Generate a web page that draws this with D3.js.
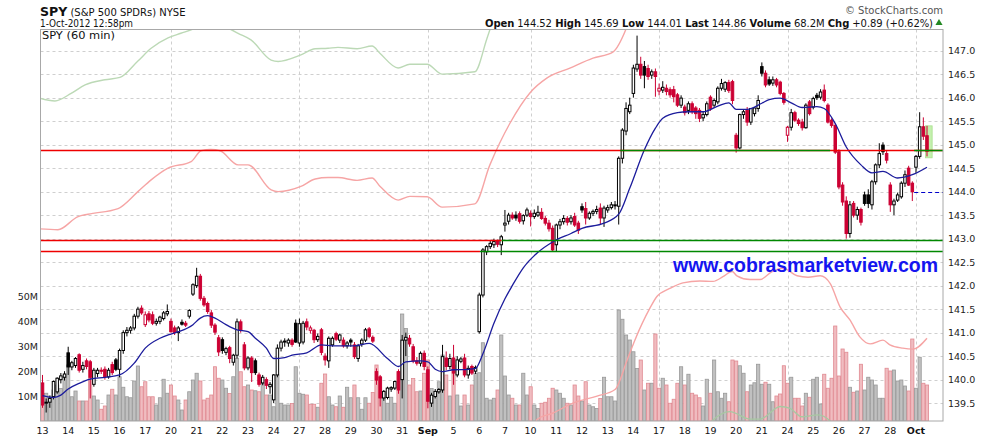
<!DOCTYPE html>
<html lang="en">
<head>
<meta charset="UTF-8">
<title>SPY (60 min)</title>
<style>
  body { margin: 0; background: #fff; }
  svg { display: block; }
  text { font-family: "DejaVu Sans", Verdana, sans-serif; fill: #111; }
</style>
</head>
<body>
<script src="https://d3js.org/d3.v7.min.js"></script>
<script>
// 60 minute bars, 7 per session, 13 Aug 2012 - 1 Oct 2012 (last session partial)
const dayLabels = ["13","14","15","16","17","20","21","22","23","24","27","28","29","30","31",
  "Sep","5","6","7","10","11","12","13","14","17","18","19","20","21","24","25","26","27","28","Oct"];
const monthLabels = ["Sep", "Oct"];
const gridBars = [35, 70, 105, 133, 168, 203, 238];   // first bar of each week

// [open, high, low, close]
const bars = [
  // Aug 13
  [139.93,140.10,139.40,139.46],[139.50,139.60,139.30,139.52],[139.52,139.66,139.40,139.60],[139.64,139.98,139.58,139.96],
  [139.74,140.05,139.70,140.03],[140.00,140.14,139.92,140.08],[140.05,140.18,139.98,140.12],
  // Aug 14
  [140.57,140.70,140.10,140.27],[140.27,140.40,140.20,140.36],[140.30,140.48,140.25,140.45],[140.53,140.56,140.15,140.20],
  [140.22,140.38,140.15,140.30],[140.40,140.45,140.22,140.28],[140.38,140.42,139.60,140.05],
  // Aug 15
  [139.90,140.25,139.85,140.20],[140.13,140.25,140.05,140.20],[140.20,140.26,140.12,140.18],[140.22,140.28,140.00,140.06],
  [140.06,140.25,140.02,140.20],[140.32,140.38,140.10,140.15],[140.42,140.46,140.18,140.22],
  // Aug 16
  [140.22,140.66,140.05,140.62],[140.62,141.05,140.55,141.00],[141.00,141.12,140.92,141.05],[141.05,141.14,140.98,141.10],
  [141.10,141.40,141.05,141.35],[141.35,141.55,141.30,141.50],[141.52,141.58,141.38,141.42],
  // Aug 17
  [141.17,141.45,141.12,141.38],[141.40,141.46,141.22,141.27],[141.38,141.45,141.16,141.20],[141.20,141.30,141.15,141.24],
  [141.24,141.36,141.18,141.33],[141.30,141.46,141.26,141.42],[141.40,141.60,141.35,141.45],
  // Aug 20
  [141.24,141.30,141.00,141.02],[141.10,141.15,140.95,141.00],[141.00,141.14,140.82,141.10],[141.22,141.28,141.15,141.18],
  [141.20,141.25,141.12,141.16],[141.35,141.50,141.30,141.47],[141.82,142.05,141.78,142.02],
  // Aug 21
  [142.00,142.38,141.95,142.20],[142.20,142.25,141.68,141.73],[141.73,141.78,141.55,141.59],[141.62,141.66,141.40,141.45],
  [141.42,141.48,141.10,141.16],[141.16,141.20,140.95,141.01],[140.89,140.95,140.50,140.59],
  // Aug 22
  [140.85,140.90,140.55,140.62],[140.58,140.70,140.52,140.66],[140.68,140.72,140.35,140.45],[140.37,140.55,140.30,140.52],
  [140.52,141.30,140.45,141.23],[141.23,141.28,141.00,141.06],[140.74,140.80,140.20,140.25],
  // Aug 23
  [140.25,140.50,140.20,140.46],[140.46,140.50,139.95,140.15],[140.40,140.45,140.10,140.15],[140.10,140.15,139.85,139.90],
  [139.93,140.10,139.88,140.05],[140.00,140.05,139.80,139.88],[139.85,139.95,139.70,139.90],
  // Aug 24
  [139.57,140.12,139.50,140.10],[140.10,140.75,140.05,140.67],[140.67,140.85,140.60,140.80],[140.80,140.88,140.70,140.82],
  [140.78,140.88,140.70,140.84],[140.84,140.88,140.70,140.75],[141.20,141.28,140.78,140.80],
  // Aug 27
  [140.78,141.30,140.70,141.19],[140.80,141.25,140.75,141.20],[141.23,141.30,141.05,141.12],[141.05,141.15,140.98,141.10],
  [141.05,141.08,140.78,140.85],[140.85,140.98,140.80,140.92],[141.06,141.10,140.52,140.58],
  // Aug 28
  [140.50,140.56,140.30,140.42],[140.40,140.92,140.25,140.88],[140.74,140.92,140.70,140.88],[140.98,141.02,140.82,140.86],
  [140.84,140.98,140.78,140.95],[140.84,140.90,140.68,140.72],[140.72,140.82,140.66,140.78],
  // Aug 29
  [140.84,140.88,140.70,140.80],[140.74,140.80,140.44,140.49],[140.45,140.76,140.38,140.72],[140.76,140.88,140.70,140.84],
  [140.84,141.10,140.80,141.06],[141.08,141.12,140.88,140.92],[140.90,140.94,140.78,140.82],
  // Aug 30
  [140.17,140.24,139.89,139.99],[140.06,140.10,139.43,139.61],[139.61,139.78,139.55,139.75],[139.62,139.85,139.58,139.82],
  [139.80,139.86,139.74,139.83],[139.82,139.98,139.78,139.96],[140.17,140.22,139.70,139.78],
  // Aug 31
  [140.00,140.95,139.60,140.84],[140.84,141.00,140.50,140.90],[140.88,140.95,140.70,140.76],[140.70,140.76,140.35,140.40],
  [140.40,140.48,140.30,140.35],[140.35,140.60,140.28,140.56],[140.56,140.62,140.20,140.28],
  // Sep 4
  [140.21,140.28,139.39,139.54],[139.50,139.72,139.42,139.67],[139.64,139.80,139.60,139.75],[139.74,139.82,139.70,139.79],
  [139.78,140.74,139.72,140.49],[140.46,140.60,140.20,140.28],[140.28,140.55,140.22,140.45],
  // Sep 5
  [140.46,140.74,139.89,140.14],[140.10,140.50,140.05,140.42],[140.39,140.48,140.35,140.44],[140.46,140.55,140.05,140.10],
  [140.10,140.30,140.02,140.24],[140.28,140.32,140.10,140.14],[140.18,140.30,140.12,140.26],
  // Sep 6
  [141.02,141.85,140.98,141.80],[141.80,142.80,141.75,142.76],[142.72,142.86,142.65,142.83],[142.83,142.95,142.78,142.90],
  [142.87,143.00,142.80,142.94],[142.94,142.98,142.82,142.88],[142.87,143.08,142.65,143.04],
  // Sep 7
  [143.29,143.61,143.15,143.33],[143.37,143.55,143.30,143.50],[143.50,143.56,143.40,143.44],[143.50,143.58,143.38,143.44],
  [143.53,143.58,143.32,143.37],[143.38,143.52,143.30,143.49],[143.50,143.66,143.46,143.61],
  // Sep 10
  [143.54,143.60,143.26,143.47],[143.47,143.62,143.42,143.54],[143.50,143.70,143.46,143.56],[143.56,143.65,143.40,143.43],
  [143.43,143.48,143.28,143.33],[143.33,143.40,143.15,143.21],[143.22,143.28,142.72,142.76],
  // Sep 11
  [142.87,143.32,142.72,143.29],[143.29,143.42,143.20,143.36],[143.36,143.50,143.30,143.43],[143.43,143.48,143.28,143.35],
  [143.36,143.50,143.30,143.44],[143.47,143.55,143.25,143.29],[143.33,143.38,143.10,143.18],
  // Sep 12
  [143.68,143.75,143.55,143.61],[143.64,143.78,143.30,143.44],[143.44,143.58,143.40,143.54],[143.54,143.62,143.48,143.58],
  [143.58,143.70,143.52,143.62],[143.65,143.75,143.30,143.44],[143.44,143.70,143.25,143.65],
  // Sep 13
  [143.61,143.72,143.55,143.66],[143.66,143.78,143.62,143.72],[143.70,143.80,143.62,143.72],[143.69,144.75,143.30,144.71],
  [144.71,145.35,144.60,145.31],[145.29,145.90,145.20,145.77],[145.70,146.00,145.65,145.84],
  // Sep 14
  [146.09,146.70,146.00,146.63],[146.61,147.32,146.55,146.71],[146.71,146.87,146.40,146.48],[146.66,146.78,146.20,146.48],
  [146.62,146.70,146.38,146.45],[146.48,146.60,146.40,146.55],[146.55,146.62,146.02,146.45],
  // Sep 17
  [146.14,146.30,146.05,146.20],[146.16,146.35,146.10,146.22],[146.20,146.28,146.05,146.13],[146.17,146.22,146.00,146.06],
  [146.17,146.25,145.90,146.02],[146.06,146.10,145.80,145.84],[145.84,146.05,145.78,145.99],
  // Sep 18
  [145.80,145.85,145.62,145.68],[145.73,145.92,145.65,145.87],[145.87,145.92,145.65,145.70],[145.78,145.82,145.55,145.66],
  [145.73,145.78,145.48,145.56],[145.57,145.70,145.50,145.64],[145.64,145.92,145.60,145.87],
  // Sep 19
  [146.01,146.05,145.72,145.77],[145.84,145.98,145.78,145.94],[145.91,146.24,145.86,146.20],[146.20,146.40,146.15,146.30],
  [146.18,146.35,146.12,146.32],[146.32,146.38,146.10,146.15],[146.34,146.38,145.86,145.94],
  // Sep 20
  [145.20,145.25,144.83,144.93],[144.93,145.66,144.90,145.64],[145.64,145.75,145.55,145.70],[145.73,145.80,145.40,145.48],
  [145.48,145.78,145.42,145.77],[145.66,145.80,145.60,145.78],[145.77,146.05,145.70,145.94],
  // Sep 21
  [146.66,146.75,146.45,146.52],[146.52,146.58,146.22,146.27],[146.38,146.45,146.25,146.29],[146.31,146.45,146.25,146.38],
  [146.38,146.42,146.22,146.27],[146.33,146.36,146.05,146.09],[146.09,146.12,145.85,145.90],
  // Sep 24
  [145.20,145.40,145.06,145.37],[145.37,145.76,145.30,145.68],[145.68,145.72,145.48,145.52],[145.52,145.56,145.40,145.45],
  [145.48,145.55,145.30,145.36],[145.36,145.88,145.34,145.84],[145.91,145.95,145.62,145.66],
  // Sep 25
  [145.80,146.02,145.75,145.98],[146.05,146.10,145.95,146.00],[146.01,146.18,145.96,146.12],[146.16,146.28,145.90,145.94],
  [145.84,145.88,145.45,145.48],[145.52,145.56,145.36,145.41],[145.41,145.45,144.80,144.84],
  // Sep 26
  [144.85,144.90,144.05,144.10],[144.14,144.20,143.70,143.78],[143.80,143.90,143.00,143.11],[143.11,143.80,143.02,143.72],
  [143.75,143.80,143.45,143.50],[143.50,143.68,143.40,143.62],[143.62,143.66,143.28,143.35],
  // Sep 27
  [143.93,144.00,143.70,143.75],[143.93,144.05,143.65,143.75],[143.72,144.25,143.62,144.21],[144.21,144.60,144.15,144.57],
  [144.57,145.03,144.50,144.81],[144.99,145.05,144.78,144.85],[144.81,144.88,144.60,144.67],
  // Sep 28
  [144.14,144.20,143.57,143.72],[143.72,143.85,143.50,143.80],[143.82,143.98,143.78,143.93],[143.89,144.22,143.85,144.18],
  [144.18,144.45,144.10,144.36],[144.50,144.55,144.12,144.14],[144.18,144.22,143.80,144.00],
  // Oct 1
  [144.52,144.78,144.40,144.75],[144.75,145.69,144.70,145.38],[145.38,145.58,145.10,145.18],[145.19,145.40,144.75,144.86]
];

// volume per bar, millions
const volumes = [
  9.7,11.1,10.0,12.4,14.4,13.0,17.7,  22.4,9.7,12.0,8.0,8.0,8.0,20.4,  10.0,8.4,4.7,6.0,10.4,12.7,10.4,
  17.7,13.5,9.7,9.3,16.0,22.0,13.7,  15.7,9.7,9.7,6.4,9.3,16.7,11.1,  14.4,10.0,8.4,4.4,8.4,11.7,16.4,
  19.1,16.0,8.4,9.1,10.4,21.7,17.1,  16.4,13.1,11.0,17.7,25.1,19.7,13.7,  14.4,12.4,12.1,11.7,15.1,10.4,10.4,
  5.7,18.4,7.1,6.4,6.4,7.0,21.7,  11.1,10.7,10.4,6.7,6.7,5.5,15.1,  18.8,9.7,6.4,5.7,10.0,5.5,13.5,
  9.3,14.4,9.3,4.7,9.3,7.1,11.4,  22.4,17.5,9.3,7.1,9.5,7.1,19.7,  42.8,37.0,14.4,17.0,11.7,12.0,19.1,
  24.4,13.0,10.4,15.7,26.4,18.4,10.0,  22.4,10.4,6.0,10.4,6.4,14.4,19.1,  19.3,31.3,9.1,8.4,9.1,12.4,34.4,
  18.0,10.4,9.1,6.4,6.4,19.1,10.4,  13.7,6.4,5.0,7.1,7.5,9.1,13.1,  12.4,11.1,9.1,7.1,6.4,14.4,10.0,
  8.0,15.7,6.4,5.7,5.0,9.0,17.5,  9.7,9.7,8.0,44.4,40.7,34.4,32.4,  27.7,21.0,24.4,12.4,15.1,15.1,34.8,
  13.1,17.1,14.4,7.1,8.7,15.1,21.7,  14.4,18.7,11.1,10.4,9.3,6.0,16.7,  11.1,24.4,11.7,9.1,11.1,7.7,24.4,
  24.0,22.1,19.1,11.7,14.4,15.3,22.7,  14.7,15.5,14.7,7.7,10.0,10.8,22.1,  15.1,17.5,9.1,9.1,6.0,11.1,9.5,
  16.7,17.5,6.8,18.7,13.1,17.1,38.0,  18.0,28.8,27.5,13.5,11.5,12.0,22.7,  12.4,17.5,16.4,14.4,9.1,9.1,21.1,
  20.0,20.4,16.0,16.4,14.0,12.0,32.8,  13.1,25.5,15.1,14.4
];

// moving average: [bar, value]
const maPoints = [[0,139.66],[3,139.62],[5,139.67],[7,139.80],[10,139.92],[13,140.01],[17,140.05],[21,140.10],
  [25,140.35],[28,140.67],[32,140.88],[35,140.97],[37,141.02],[41,141.17],[43,141.31],[45,141.36],[47,141.31],
  [50,141.17],[53,141.06],[56,141.02],[58,140.88],[61,140.67],[63,140.45],[66,140.47],[68,140.52],[72,140.57],
  [76,140.74],[79,140.72],[85,140.72],[89,140.77],[94,140.45],[97,140.28],[99,140.38],[103,140.40],[105,140.38],
  [107,140.22],[109,140.17],[112,140.21],[116,140.22],[118,140.24],[120,140.55],[123,141.20],[126,141.72],
  [128,142.00],[131,142.38],[135,142.71],[139,142.93],[144,143.11],[147,143.22],[153,143.33],[157,143.52],
  [160,144.07],[164,144.89],[167,145.35],[169,145.56],[173,145.68],[176,145.70],[180,145.70],[184,145.82],
  [187,145.89],[189,145.75],[192,145.75],[196,145.88],[198,145.96],[201,145.99],[204,145.89],[207,145.79],
  [211,145.81],[213,145.77],[216,145.45],[219,144.95],[223,144.57],[226,144.40],[229,144.43],[233,144.29],
  [237,144.36],[241,144.52]];

// light overlay lines, in price units
const pinkUpper = [[-1.2,143.21],[4.2,143.19],[9.7,143.47],[12.4,143.52],[20.6,143.64],[26,144.00],[29.6,144.25],
  [34.2,144.50],[40.5,144.64],[43.2,144.87],[45.9,144.90],[48.4,144.87],[53.3,144.57],[56,144.57],[62.3,144.04],
  [64.2,144.00],[70.4,144.11],[74.3,144.27],[77.8,144.30],[80.5,144.30],[85.7,144.24],[89.8,144.29],[92,144.11],
  [96.9,143.82],[100.1,143.90],[104.8,143.89],[108.9,143.67],[117.8,143.74],[121.9,144.57],[127.4,145.46],
  [132.8,146.10],[137.5,146.42],[143.7,146.63],[150,146.84],[155.4,146.97],[159.3,147.52],[161,147.90]];
const greenUpper = [[-1.2,146.00],[3.4,145.93],[7.8,146.09],[11.6,146.27],[17,146.38],[21.1,146.43],[26,146.78],
  [29.6,147.05],[34.2,147.27],[37.7,147.37],[41,147.46],[46.2,147.72],[51.1,147.46],[53.3,147.37],[56.8,147.23],
  [62.3,146.80],[64.2,146.77],[70.4,146.91],[74.3,147.04],[77.8,147.05],[80.5,147.07],[85.7,147.04],[89.8,147.10],
  [92,146.94],[96.9,146.63],[100.1,146.71],[104.8,146.71],[108.9,146.50],[117.8,146.55],[121.1,147.26],[123,147.70]];
const pinkLower = [[134.2,139.00],[134.7,139.15],[139.1,139.29],[144.5,139.50],[151.1,139.65],[156,139.79],
  [159.3,140.42],[161.4,140.84],[165.5,141.52],[167.4,141.77],[170.9,141.94],[174.5,142.06],[179.1,142.10],
  [182.7,142.09],[185.4,142.19],[187.9,142.30],[189.2,142.21],[192.8,142.13],[195.5,142.13],[198.8,142.30],
  [201.8,142.37],[205.6,142.21],[208.6,142.18],[211.9,142.21],[214.6,142.05],[217.3,141.55],[220,141.27],
  [222.7,140.91],[225.5,140.76],[229,140.84],[230.9,140.74],[234.4,140.67],[237.2,140.65],[241,140.88]];
const greenLower = [[181,139.00],[182.4,139.12],[187.3,139.32],[192.8,139.16],[195.5,139.16],[201,139.43],
  [203.7,139.39],[206.9,139.21],[211.3,139.25],[214.6,139.12],[216,139.00]];

// drawn levels: price, bar range, kind
const levels = [
  {price: 144.88, from: -2, to: 246, kind: "red"},
  {price: 144.88, from: 157.4, to: 214.6, kind: "green"},
  {price: 144.88, from: 237.5, to: 246, kind: "green"},
  {price: 142.97, from: -2, to: 125.1, kind: "red"},
  {price: 142.97, from: 125.1, to: 246, kind: "green"},
  {price: 142.74, from: -2, to: 119.2, kind: "red"},
  {price: 142.74, from: 119.2, to: 246, kind: "green"},
  {price: 144.00, from: 237.5, to: 246, kind: "dash"}
];
const highlight = {from: 240.6, to: 242.4, hi: 145.40, lo: 144.72};

const priceTicks = [139.5,140.0,140.5,141.0,141.5,142.0,142.5,143.0,143.5,144.0,144.5,145.0,145.5,146.0,146.5,147.0];
const volumeTicks = [10, 20, 30, 40, 50];
const stats = [["Open","144.52"],["High","145.69"],["Low","144.01"],["Last","144.86"],["Volume","68.2M"],["Chg","+0.89 (+0.62%)"]];

// ---------- layout ----------
const W = 990, H = 438;
const plot = {left: 40.5, right: 943, top: 29.5, bottom: 421};
const RED = "#cc0033";
const levelColor = {red: "#ee0000", green: "#008800", dash: "#0000cc"};

const x = d3.scaleLinear().domain([0, 241]).range([42.5, 927]);
const y = d3.scaleLinear().domain([139.12, 147.45]).range([plot.bottom, plot.top]);
const yv = d3.scaleLinear().domain([0, 60]).range([plot.bottom, plot.bottom - 150]);

const svg = d3.select("body").append("svg").attr("width", W).attr("height", H);

svg.append("clipPath").attr("id", "clip").append("rect")
  .attr("x", plot.left).attr("y", plot.top)
  .attr("width", plot.right - plot.left).attr("height", plot.bottom - plot.top);

const grid = svg.append("g").attr("stroke", "#cfcfcf").attr("stroke-dasharray", "3,3");
grid.selectAll(".h").data(priceTicks).enter().append("line")
  .attr("x1", plot.left).attr("x2", plot.right)
  .attr("y1", d => Math.round(y(d)) + 0.5).attr("y2", d => Math.round(y(d)) + 0.5);
grid.selectAll(".v").data(gridBars).enter().append("line")
  .attr("y1", plot.top).attr("y2", plot.bottom)
  .attr("x1", d => Math.round(x(d)) + 0.5).attr("x2", d => Math.round(x(d)) + 0.5);

const area = svg.append("g").attr("clip-path", "url(#clip)");

// volume
const isDown = (d, i) => d[3] < (i === 0 ? d[0] : bars[i - 1][3]);
area.append("g").selectAll("rect").data(volumes).enter().append("rect")
  .attr("x", (d, i) => x(i) - 1.6)
  .attr("width", 3.2)
  .attr("y", d => yv(d))
  .attr("height", d => plot.bottom - yv(d))
  .attr("fill", (d, i) => isDown(bars[i], i) ? "#f0bcc0" : "#c0c0c0")
  .attr("stroke", (d, i) => isDown(bars[i], i) ? "#e08a92" : "#999")
  .attr("stroke-width", 0.8);

// light overlays
const line = d3.line().x(d => x(d[0])).y(d => y(d[1])).curve(d3.curveMonotoneX);
[[pinkUpper, "#f6a5a5"], [pinkLower, "#f6a5a5"], [greenUpper, "#bcd9b6"], [greenLower, "#a8c8a2"]].forEach(([pts, c]) => {
  area.append("path").attr("d", line(pts)).attr("fill", "none")
    .attr("stroke", c).attr("stroke-width", 1.4);
});

// highlight box
area.append("rect")
  .attr("x", x(highlight.from)).attr("width", x(highlight.to) - x(highlight.from))
  .attr("y", y(highlight.hi)).attr("height", y(highlight.lo) - y(highlight.hi))
  .attr("fill", "#c4f0ae").attr("stroke", "#a8e08c").attr("stroke-width", 0.8);

// candles
const candle = area.append("g").selectAll("g").data(bars).enter().append("g");
const col = (d, i) => isDown(d, i) ? RED : "#000";
candle.append("line")
  .attr("x1", (d, i) => x(i)).attr("x2", (d, i) => x(i))
  .attr("y1", d => y(d[1])).attr("y2", d => y(d[2]))
  .attr("stroke", col).attr("stroke-width", 1);
candle.append("rect")
  .attr("x", (d, i) => x(i) - 1.25).attr("width", 2.5)
  .attr("y", d => y(Math.max(d[0], d[3])))
  .attr("height", d => Math.max(1, Math.abs(y(d[0]) - y(d[3]))))
  .attr("fill", (d, i) => d[3] > d[0] ? "#fff" : col(d, i))
  .attr("stroke", col).attr("stroke-width", 1);

// moving average
area.append("path").attr("d", line(maPoints)).attr("fill", "none")
  .attr("stroke", "#1c1c9c").attr("stroke-width", 1.3);

// drawn levels
area.append("g").selectAll("line").data(levels).enter().append("line")
  .attr("x1", d => x(d.from)).attr("x2", d => x(d.to))
  .attr("y1", d => Math.round(y(d.price)) + 0.5).attr("y2", d => Math.round(y(d.price)) + 0.5)
  .attr("stroke", d => levelColor[d.kind])
  .attr("stroke-width", d => d.kind === "dash" ? 1.2 : 1.3)
  .attr("stroke-dasharray", d => d.kind === "dash" ? "4,3" : null);

// watermark
svg.append("text").attr("x", 673).attr("y", 272)
  .attr("textLength", 265).attr("lengthAdjust", "spacingAndGlyphs")
  .style("font-family", "'Liberation Sans', Arial, sans-serif")
  .style("font-weight", "bold").style("font-size", "20px").style("fill", "#1414f0")
  .text("www.cobrasmarketview.com");

// frame
svg.append("rect").attr("x", plot.left).attr("y", plot.top)
  .attr("width", plot.right - plot.left).attr("height", plot.bottom - plot.top)
  .attr("fill", "none").attr("stroke", "#a8a8a8");

// right price axis labels
svg.append("g").selectAll("text").data(priceTicks).enter().append("text")
  .attr("x", plot.right + 5).attr("y", d => y(d) + 3.5)
  .style("font-size", "9.5px").style("fill", "#222")
  .text(d => d3.format(".1f")(d));

// left volume labels
svg.append("g").selectAll("text").data(volumeTicks).enter().append("text")
  .attr("x", 38).attr("y", d => yv(d) + 3.5).attr("text-anchor", "end")
  .style("font-size", "9.5px").style("fill", "#222")
  .text(d => d + "M");

// bottom day labels
svg.append("g").selectAll("text").data(dayLabels).enter().append("text")
  .attr("x", (d, i) => x(i * 7)).attr("y", 434).attr("text-anchor", "middle")
  .style("font-size", "9.5px")
  .style("font-weight", d => monthLabels.includes(d) ? "bold" : "normal")
  .text(d => d);

// header
const title = svg.append("text").attr("x", 40).attr("y", 16);
title.append("tspan").style("font-weight", "bold").style("font-size", "12.5px").text("SPY");
title.append("tspan").style("font-size", "10px").text(" (S&P 500 SPDRs) NYSE");
svg.append("text").attr("x", 40).attr("y", 27).attr("textLength", 93).attr("lengthAdjust", "spacingAndGlyphs")
  .style("font-size", "10px").text("1-Oct-2012 12:58pm");
svg.append("text").attr("x", 42).attr("y", 39).attr("textLength", 73).attr("lengthAdjust", "spacingAndGlyphs")
  .style("font-size", "10px").text("SPY (60 min)");
svg.append("text").attr("x", 943).attr("y", 14).attr("text-anchor", "end")
  .style("font-size", "10px").style("fill", "#555").text("\u00a9 StockCharts.com");

const st = svg.append("text").attr("x", 485).attr("y", 27)
  .attr("textLength", 448).attr("lengthAdjust", "spacing").style("font-size", "10px");
stats.forEach(([k, v], i) => {
  st.append("tspan").style("font-weight", "bold").text((i ? " " : "") + k);
  st.append("tspan").text(" " + v);
});
st.attr("xml:space", "preserve");
svg.append("path").attr("d", d3.symbol(d3.symbolTriangle, 22)())
  .attr("transform", "translate(939,23)").attr("fill", "#228822");
</script>
</body>
</html>
